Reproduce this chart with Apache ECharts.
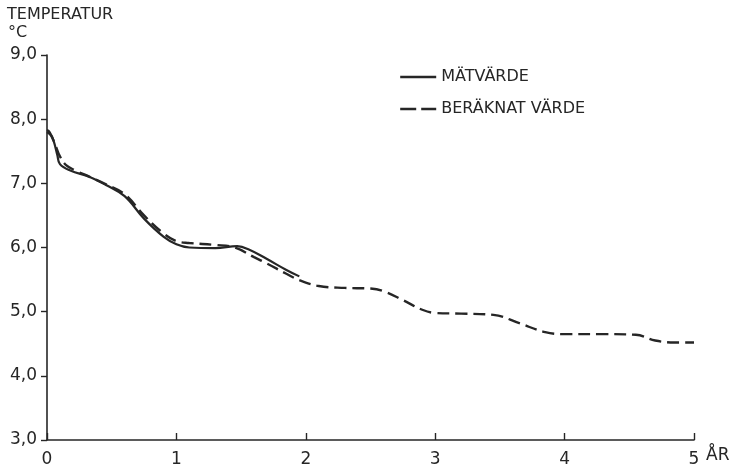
<!DOCTYPE html>
<html><head><meta charset="utf-8">
<script src="https://cdn.jsdelivr.net/npm/echarts@6/dist/echarts.min.js"></script>
<style>html,body{margin:0;padding:0;background:#fff}#c{width:738px;height:470px}</style>
</head><body><div id="c"></div>
<script>
const xTicks = [0, 1, 2, 3, 4, 5];
const yTicks = [3, 4, 5, 6, 7, 8, 9];
const seriesNames = ['MÄTVÄRDE', 'BERÄKNAT VÄRDE'];
const measuredX = [0, 0.02, 0.05, 0.08, 0.1, 0.18, 0.33, 0.46, 0.6, 0.75, 0.9, 1.0, 1.1, 1.3, 1.47, 1.56, 1.7, 1.85, 1.95];
const measuredY = [7.83, 7.8, 7.67, 7.44, 7.3, 7.2, 7.1, 6.97, 6.8, 6.45, 6.17, 6.05, 6.0, 5.99, 6.02, 5.97, 5.82, 5.65, 5.55];
const computedX = [0, 0.03, 0.06, 0.1, 0.15, 0.22, 0.33, 0.46, 0.6, 0.75, 0.9, 1.0, 1.1, 1.3, 1.45, 1.6, 1.7, 1.85, 1.95, 2.1, 2.3, 2.5, 2.6, 2.75, 2.9, 3.0, 3.2, 3.45, 3.65, 3.85, 4.0, 4.3, 4.55, 4.7, 4.85, 5.0];
const computedY = [7.8, 7.75, 7.62, 7.42, 7.28, 7.2, 7.1, 6.98, 6.83, 6.5, 6.22, 6.1, 6.07, 6.04, 6.0, 5.85, 5.75, 5.59, 5.49, 5.4, 5.37, 5.36, 5.32, 5.18, 5.03, 4.98, 4.97, 4.95, 4.82, 4.68, 4.65, 4.65, 4.64, 4.55, 4.52, 4.52];

const pairs = (xs, ys) => xs.map((x, i) => [x, ys[i]]);
const ink = '#262626';
const font = 'DejaVu Sans, sans-serif';
const chart = echarts.init(document.getElementById('c'));
chart.setOption({
  animation: false,
  backgroundColor: '#fff',
  grid: { left: 47, right: 44, top: 55, bottom: 30 },
  legend: {
    show: true, orient: 'vertical', left: 394, top: 64, itemWidth: 36, itemHeight: 14, itemGap: 16,
    itemStyle: { opacity: 0 },
    lineStyle: { width: 2.4 },
    textStyle: { color: ink, fontSize: 16, fontFamily: font },
    data: [
      { name: seriesNames[0] },
      { name: seriesNames[1], lineStyle: { width: 2.4, type: [16, 5] } }
    ]
  },
  xAxis: {
    type: 'value', min: 0, max: 5, interval: 1,
    axisLine: { show: true, lineStyle: { color: ink, width: 1.6 } },
    axisTick: { show: true, inside: true, length: 7, lineStyle: { color: ink, width: 1.4 } },
    axisLabel: { color: ink, fontSize: 17, fontFamily: font, margin: 11,
      formatter: v => xTicks.includes(v) ? String(v) : '' },
    splitLine: { show: false }
  },
  yAxis: {
    type: 'value', min: 3, max: 9, interval: 1,
    axisLine: { show: true, lineStyle: { color: ink, width: 1.6 } },
    axisTick: { show: true, length: 6, lineStyle: { color: ink, width: 1.4 } },
    axisLabel: { color: ink, fontSize: 17, fontFamily: font, margin: 10,
      formatter: v => yTicks.includes(v) ? v.toFixed(1).replace('.', ',') : '' },
    splitLine: { show: false }
  },
  graphic: [
    { type: 'text', left: 7, top: 7, style: { text: 'TEMPERATUR', fill: ink, font: '16px ' + font } },
    { type: 'text', left: 8, top: 25, style: { text: '°C', fill: ink, font: '16px ' + font } },
    { type: 'text', left: 706, top: 447, style: { text: 'ÅR', fill: ink, font: '17px ' + font } }
  ],
  series: [
    { name: seriesNames[0], type: 'line', smooth: 0.4, showSymbol: false, symbol: 'none',
      data: pairs(measuredX, measuredY), itemStyle: { color: ink },
      lineStyle: { color: ink, width: 2.2 } },
    { name: seriesNames[1], type: 'line', smooth: 0.4, showSymbol: false, symbol: 'none',
      data: pairs(computedX, computedY), itemStyle: { color: ink },
      lineStyle: { color: ink, width: 2.4, type: [12, 6] } }
  ]
});
</script></body></html>
